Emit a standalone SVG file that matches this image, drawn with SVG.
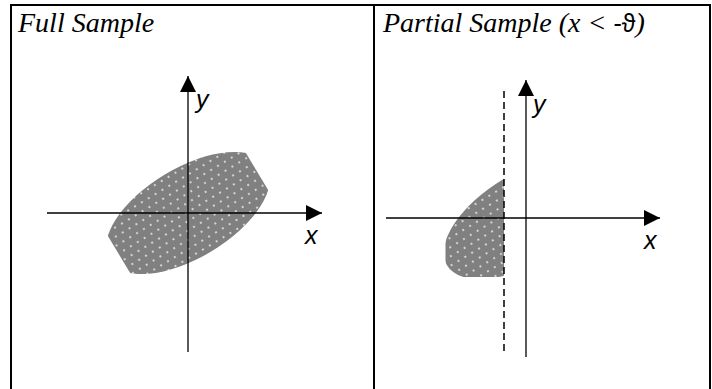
<svg xmlns="http://www.w3.org/2000/svg" width="712" height="389" viewBox="0 0 712 389">
<style>
.frame{stroke:#000;stroke-width:2;fill:none}
.axis{stroke:#000;stroke-width:1.3;fill:none}
.title{font-family:"Liberation Serif","Times New Roman",serif;font-style:italic;font-size:28px;fill:#000}
.lbl{font-family:"Liberation Sans",Arial,sans-serif;font-style:italic;font-size:25px;fill:#000}
.blob{fill:url(#dots)}
</style>
<defs>
<pattern id="dots" x="0" y="0" width="8" height="16" patternUnits="userSpaceOnUse">
<rect width="8" height="16" fill="#808080"/>
<circle cx="2" cy="4" r="1" fill="#eeeeee"/>
<circle cx="6" cy="12" r="1" fill="#eeeeee"/>
</pattern>
<marker id="arr" viewBox="0 0 16 16" refX="16" refY="8" markerWidth="16" markerHeight="16" markerUnits="userSpaceOnUse" orient="auto">
<path d="M0,0 L16,8 L0,16 Z" fill="#000"/>
</marker>
<clipPath id="clipFull"><rect x="107.5" y="154" width="161" height="118"/></clipPath>
<clipPath id="clipPart"><rect x="445.5" y="159" width="58.5" height="118"/></clipPath>
</defs>
<g id="frame">
<line class="frame" x1="10" y1="5" x2="711" y2="5"/>
<line class="frame" x1="11" y1="5" x2="11" y2="389"/>
<line class="frame" x1="374" y1="5" x2="374" y2="389"/>
<line class="frame" x1="710" y1="5" x2="710" y2="389"/>
</g>
<g id="title-full"><text class="title" x="18" y="32">Full Sample</text></g>
<g id="title-partial"><text class="title" x="383" y="32">Partial Sample (x &lt; <tspan font-family="Liberation Sans, Arial, sans-serif" font-style="normal" font-size="25">-ϑ</tspan>)</text></g>
<g id="blob-full">
<ellipse class="blob" cx="188" cy="213" rx="92" ry="45" transform="rotate(-31 188 213)" clip-path="url(#clipFull)"/>
</g>
<g id="blob-partial">
<g clip-path="url(#clipPart)">
<ellipse class="blob" cx="526" cy="218" rx="92" ry="45" transform="rotate(-31 526 218)"/>
</g>
</g>
<g id="connectors">
<line class="axis" x1="188" y1="352" x2="188" y2="76" marker-end="url(#arr)"/>
<line class="axis" x1="47" y1="213" x2="322" y2="213" marker-end="url(#arr)"/>
<line class="axis" x1="526" y1="357" x2="526" y2="80" marker-end="url(#arr)"/>
<line class="axis" x1="386" y1="218" x2="660" y2="218" marker-end="url(#arr)"/>
<line x1="504" y1="91" x2="504" y2="354" stroke="#000" stroke-width="1.5" stroke-dasharray="7,4"/>
</g>
<g id="labels">
<text class="lbl" x="196" y="108">y</text>
<text class="lbl" x="305" y="244">x</text>
<text class="lbl" x="533" y="113">y</text>
<text class="lbl" x="644" y="249">x</text>
</g>
</svg>
